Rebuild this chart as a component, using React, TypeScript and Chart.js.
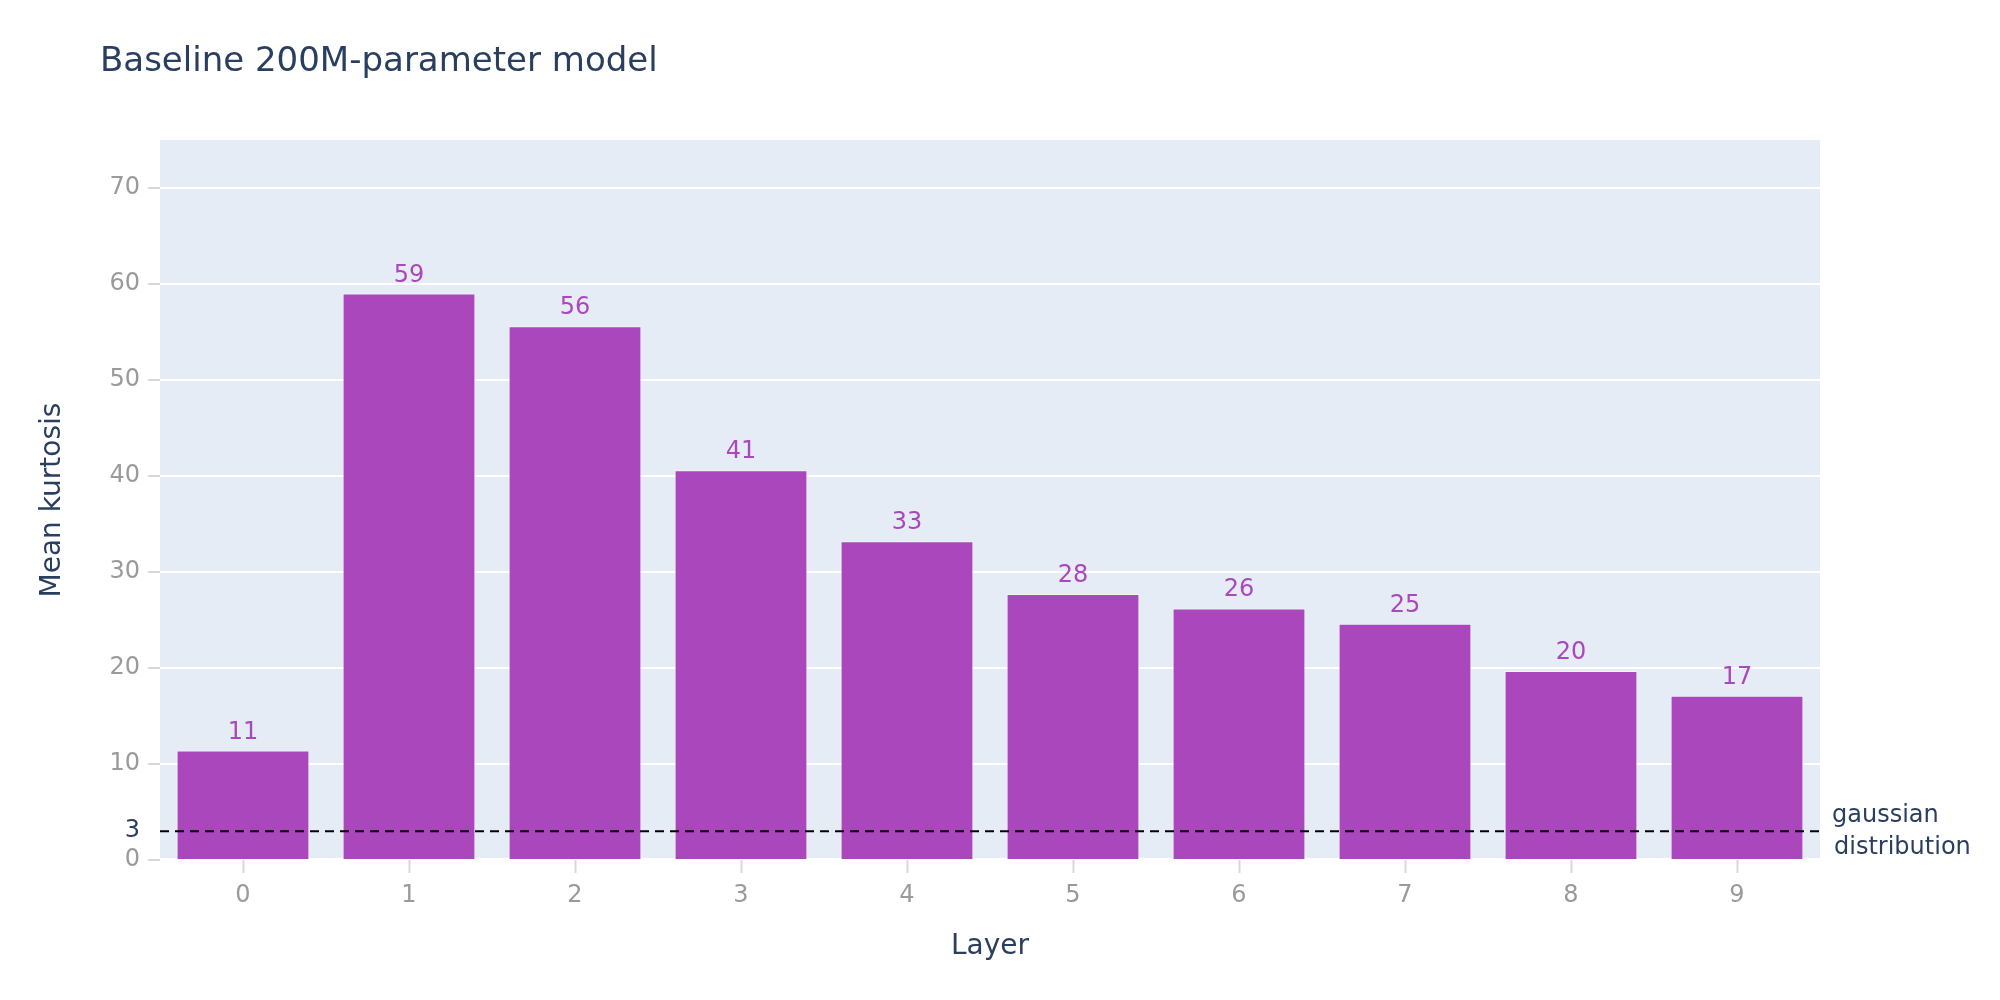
import { useEffect, useRef } from 'react';
import { Chart, registerables, Plugin } from 'chart.js';

Chart.register(...registerables);

const layers = ['0', '1', '2', '3', '4', '5', '6', '7', '8', '9'];
const meanKurtosis = [11.4, 59.0, 55.6, 40.6, 33.2, 27.7, 26.2, 24.6, 19.7, 17.1];
const gaussianKurtosis = 3;
const gaussianLabel = ['gaussian', 'distribution'];
const yMax = 75;
const yStep = 10;

const FONT = '"DejaVu Sans", Verdana, sans-serif';
const DARK = '#2a3f5f';
const BAR = '#ab47bc';
const TICK_GRAY = '#9a9a9a';

const decorations: Plugin<'bar'> = {
  id: 'decorations',
  beforeDraw(chart) {
    const { ctx, chartArea } = chart;
    ctx.save();
    ctx.fillStyle = '#e5ecf6';
    // plot background stops just above the zero line, as in the original
    ctx.fillRect(chartArea.left, chartArea.top, chartArea.right - chartArea.left, chartArea.bottom - chartArea.top - 2);
    ctx.restore();
  },
  afterDatasetsDraw(chart) {
    const { ctx, chartArea, scales } = chart;
    const y = scales.y;
    ctx.save();

    // value labels above bars
    const meta = chart.getDatasetMeta(0);
    ctx.font = `24px ${FONT}`;
    ctx.fillStyle = BAR;
    ctx.textAlign = 'center';
    ctx.textBaseline = 'alphabetic';
    meta.data.forEach((bar, i) => {
      ctx.fillText(String(Math.round(meanKurtosis[i])), bar.x, bar.y - 12);
    });

    // gaussian reference line
    const gy = y.getPixelForValue(gaussianKurtosis);
    ctx.strokeStyle = '#000000';
    ctx.lineWidth = 2;
    ctx.setLineDash([9, 6]);
    ctx.beginPath();
    ctx.moveTo(chartArea.left, gy);
    ctx.lineTo(chartArea.right, gy);
    ctx.stroke();
    ctx.setLineDash([]);

    ctx.fillStyle = DARK;
    ctx.font = `24px ${FONT}`;
    ctx.textAlign = 'right';
    ctx.textBaseline = 'middle';
    ctx.fillText(String(gaussianKurtosis), chartArea.left - 20, gy);

    ctx.textAlign = 'left';
    ctx.fillText(gaussianLabel[0], chartArea.right + 12, gy - 15);
    ctx.fillText(gaussianLabel[1], chartArea.right + 14, gy + 17);

    // titles
    ctx.font = `34px ${FONT}`;
    ctx.textAlign = 'left';
    ctx.textBaseline = 'alphabetic';
    ctx.fillText('Baseline 200M-parameter model', 100, 71);

    ctx.font = `28px ${FONT}`;
    ctx.textAlign = 'center';
    ctx.textBaseline = 'middle';
    ctx.fillText('Layer', (chartArea.left + chartArea.right) / 2, 947);

    ctx.translate(53, (chartArea.top + chartArea.bottom) / 2);
    ctx.rotate(-Math.PI / 2);
    ctx.fillText('Mean kurtosis', 0, 0);
    ctx.restore();
  },
};

export default function App() {
  const chartRef = useRef<HTMLCanvasElement>(null);
  const chartInstance = useRef<Chart | null>(null);

  useEffect(() => {
    if (!chartRef.current) return;
    if (chartInstance.current) {
      chartInstance.current.destroy();
    }
    const ctx = chartRef.current.getContext('2d');
    if (!ctx) return;

    chartInstance.current = new Chart(ctx, {
      type: 'bar',
      data: {
        labels: layers,
        datasets: [
          {
            data: meanKurtosis,
            backgroundColor: BAR,
            borderColor: 'rgba(255,255,255,0.5)',
            borderWidth: 1,
            barPercentage: 0.8,
            categoryPercentage: 1.0,
          },
        ],
      },
      options: {
        responsive: false,
        animation: false,
        devicePixelRatio: 1,
        layout: {
          padding: { left: 0, top: 140, right: 180, bottom: 80 },
        },
        plugins: {
          legend: { display: false },
          tooltip: { enabled: false },
          title: { display: false },
        },
        scales: {
          x: {
            afterFit(scale) {
              scale.height = 60;
            },
            border: { display: false },
            grid: {
              offset: false,
              drawOnChartArea: false,
              drawTicks: true,
              tickLength: 13,
              tickColor: '#d9d9d9',
              tickWidth: 2,
            },
            ticks: {
              color: TICK_GRAY,
              font: { family: FONT, size: 24 },
              padding: 8,
            },
          },
          y: {
            min: 0,
            max: yMax,
            afterFit(scale) {
              scale.width = 160;
            },
            border: { display: false },
            grid: {
              color: (c) => (c.tick && c.tick.value === 0 ? 'rgba(0,0,0,0)' : '#ffffff'),
              lineWidth: 2,
              drawTicks: true,
              tickLength: 12,
              tickColor: '#d9d9d9',
              tickWidth: 2,
            },
            ticks: {
              stepSize: yStep,
              includeBounds: false,
              color: TICK_GRAY,
              font: { family: FONT, size: 24 },
              padding: 8,
            },
          },
        },
      },
      plugins: [decorations],
    });

    return () => {
      if (chartInstance.current) {
        chartInstance.current.destroy();
        chartInstance.current = null;
      }
    };
  }, []);

  return (
    <div style={{ position: 'absolute', left: 0, top: 0, width: 2000, height: 1000, background: '#ffffff' }}>
      <canvas ref={chartRef} width={2000} height={1000}></canvas>
    </div>
  );
}
